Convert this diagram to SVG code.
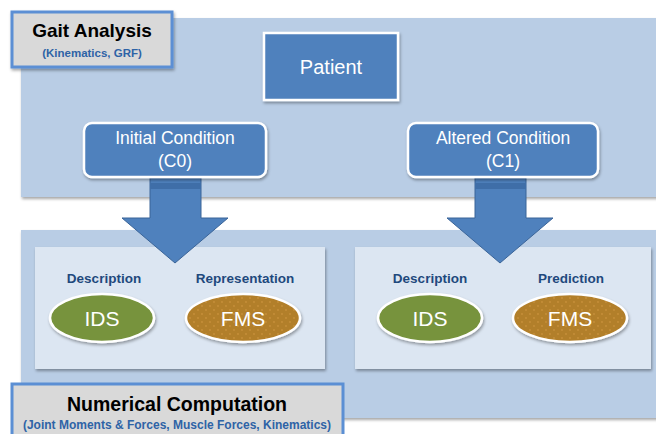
<svg xmlns="http://www.w3.org/2000/svg" width="656" height="434" viewBox="0 0 656 434">
<defs>
<filter id="sh" x="-10%" y="-10%" width="130%" height="140%">
<feDropShadow dx="1" dy="2" stdDeviation="1.5" flood-color="#000" flood-opacity="0.35"/>
</filter>
<pattern id="dots" width="8" height="8" patternUnits="userSpaceOnUse">
<rect width="8" height="8" fill="#b27f2a"/>
<circle cx="2" cy="2" r="0.9" fill="#c8903a"/>
<circle cx="6" cy="6" r="0.9" fill="#c8903a"/>
</pattern>
<style>
.panel{fill:#b9cde5}
.inner{fill:#dce6f2}
.title{fill:#d9d9d9;stroke:#5b8fd4;stroke-width:3}
.blue{fill:#4f81bd;stroke:#fff;stroke-width:2.5}
.wt{font-family:"Liberation Sans",Arial,sans-serif;fill:#fff;text-anchor:middle}
.bt{font-family:"Liberation Sans",Arial,sans-serif;font-weight:bold;text-anchor:middle}
.lab{font-family:"Liberation Sans",Arial,sans-serif;font-weight:bold;fill:#1f497d;font-size:13.5px;text-anchor:middle}
.ell{stroke:#fff;stroke-width:2.5}
.arrow{fill:#4f81bd;stroke:#3a6498;stroke-width:1}
</style>
</defs>
<rect width="656" height="434" fill="#fff"/>

<g id="top-panel">
<rect class="panel" x="21" y="18" width="640" height="179" filter="url(#sh)"/>
</g>
<g id="bottom-panel">
<rect class="panel" x="21" y="230" width="640" height="188" filter="url(#sh)"/>
</g>

<g id="panel-left">
<rect class="inner" x="35" y="247" width="290" height="122" filter="url(#sh)"/>
</g>
<g id="panel-right">
<rect class="inner" x="355" y="247" width="296" height="122" filter="url(#sh)"/>
</g>

<g id="connectors">
<path class="arrow" d="M150,178 H201 V218 H228 L175,263 L122,218 H150 Z"/>
<rect x="150" y="183" width="51" height="6" fill="#3f6ea8"/>
<path class="arrow" d="M475,178 H526 V218 H553 L500,263 L447,218 H475 Z"/>
<rect x="475" y="183" width="51" height="6" fill="#3f6ea8"/>
</g>

<g id="gait-analysis">
<rect class="title" x="12" y="12" width="160" height="55" filter="url(#sh)"/>
<text class="bt" x="92" y="37" font-size="19" fill="#000">Gait Analysis</text>
<text class="bt" x="92" y="57" font-size="11.5" fill="#2e63a6">(Kinematics, GRF)</text>
</g>

<g id="patient">
<rect class="blue" x="264" y="33" width="134" height="67" filter="url(#sh)"/>
<text class="wt" x="331" y="74" font-size="20">Patient</text>
</g>

<g id="initial-condition">
<rect class="blue" x="84" y="123" width="182" height="54" rx="8" filter="url(#sh)"/>
<text class="wt" x="175" y="144" font-size="17.5">Initial Condition</text>
<text class="wt" x="175" y="167" font-size="17.5">(C0)</text>
</g>

<g id="altered-condition">
<rect class="blue" x="408" y="123" width="190" height="54" rx="8" filter="url(#sh)"/>
<text class="wt" x="503" y="144" font-size="17.5">Altered Condition</text>
<text class="wt" x="503" y="167" font-size="17.5">(C1)</text>
</g>

<g id="ids-left">
<text class="lab" x="104" y="283">Description</text>
<ellipse class="ell" cx="102" cy="318" rx="52" ry="24" fill="#77933c" filter="url(#sh)"/>
<text class="wt" x="102" y="326" font-size="21">IDS</text>
</g>

<g id="fms-left">
<text class="lab" x="245" y="283">Representation</text>
<ellipse class="ell" cx="243" cy="318" rx="57" ry="24" fill="url(#dots)" filter="url(#sh)"/>
<text class="wt" x="243" y="326" font-size="21">FMS</text>
</g>

<g id="ids-right">
<text class="lab" x="430" y="283">Description</text>
<ellipse class="ell" cx="430" cy="318" rx="52" ry="24" fill="#77933c" filter="url(#sh)"/>
<text class="wt" x="430" y="326" font-size="21">IDS</text>
</g>

<g id="fms-right">
<text class="lab" x="571" y="283">Prediction</text>
<ellipse class="ell" cx="570" cy="318" rx="57" ry="24" fill="url(#dots)" filter="url(#sh)"/>
<text class="wt" x="570" y="326" font-size="21">FMS</text>
</g>

<g id="numerical-computation">
<rect class="title" x="12" y="384" width="331" height="60"/>
<text class="bt" x="177" y="411" font-size="19.5" fill="#000">Numerical Computation</text>
<text class="bt" x="177" y="429" font-size="12" fill="#2e63a6">(Joint Moments &amp; Forces, Muscle Forces, Kinematics)</text>
</g>
</svg>
